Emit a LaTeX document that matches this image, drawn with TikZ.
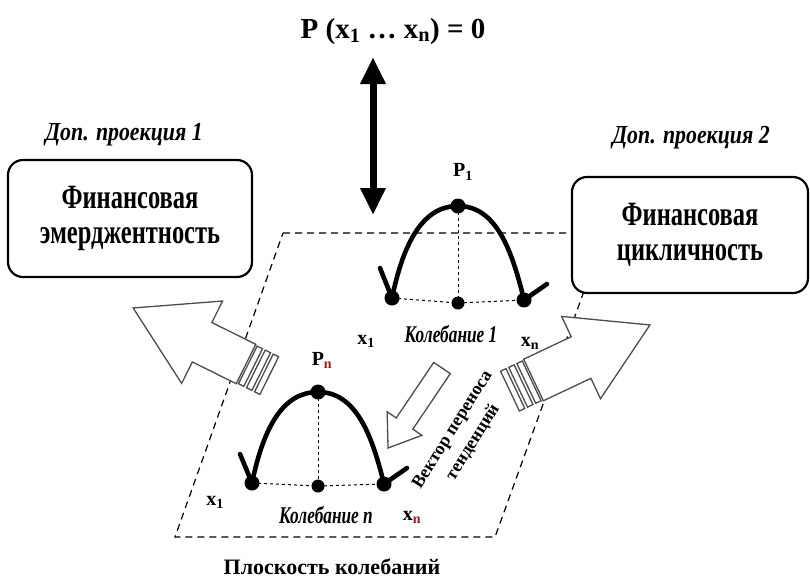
\documentclass[tikz,border=0pt]{standalone}
\usepackage{fontspec}
\setmainfont{Liberation Serif}
\newfontfamily\narrowA[FakeStretch=0.72]{Liberation Serif}
\newfontfamily\narrowB[FakeStretch=0.84]{Liberation Serif}
\usetikzlibrary{arrows.meta}
\definecolor{subred}{RGB}{150,30,30}
\tikzset{
  plane/.style={draw=black, line width=1.2pt, dash pattern=on 7pt off 5pt},
  guide/.style={line width=1pt, dash pattern=on 3pt off 3pt},
  wave/.style={line width=4.6pt, line cap=round, line join=round},
  bigdot/.style={circle, fill=black, inner sep=0pt, minimum size=15pt},
  smalldot/.style={circle, fill=black, inner sep=0pt, minimum size=13pt},
  card/.style={draw, line width=2.2pt, rounded corners=15pt, fill=white, align=center,
    font=\narrowA\bfseries\fontsize{34}{35}\selectfont},
  hollow/.style={draw=black!70, line width=1.3pt, fill=white, line join=miter},
  projlabel/.style={font=\narrowB\bfseries\itshape\fontsize{26}{30}\selectfont, anchor=base},
  osclabel/.style={font=\narrowA\bfseries\itshape\fontsize{24}{28}\selectfont, anchor=base},
  varlabel/.style={font=\bfseries\fontsize{20}{22}\selectfont},
  titlelabel/.style={font=\bfseries\fontsize{29}{32}\selectfont, anchor=base},
  planelabel/.style={font=\bfseries\fontsize{22}{26}\selectfont, anchor=base},
  veclabel/.style={font=\bfseries\fontsize{18}{24}\selectfont, align=center, rotate=58},
  dbl/.style={line width=7pt, {Triangle[width=24pt,length=27pt]}-{Triangle[width=24pt,length=27pt]}}
}
\begin{document}
\begin{tikzpicture}[x=1pt,y=-1pt]
\useasboundingbox (0,0) rectangle (810,579);

% plane
\coordinate (pa) at (283,233);
\coordinate (pb) at (605,233);
\coordinate (pc) at (495,537);
\coordinate (pd) at (175,537);
\draw[plane] (pa) -- (pb) -- (pc) -- (pd) -- cycle;

% title and double arrow
\node[titlelabel] (title) at (393,38) {P (x\textsubscript{1} … x\textsubscript{n}) = 0};
\coordinate (dt) at (373,57);
\coordinate (db) at (373,215);
\draw[dbl] (dt) -- (db);

% boxes
\node[card, minimum width=244pt, minimum height=117pt] (emerg) at (130,218.5) {Финансовая\\эмерджентность};
\node[card, minimum width=236pt, minimum height=116pt] (cycl) at (690,235) {Финансовая\\цикличность};
\node[projlabel] (pr1) at (124,140) {Доп. проекция 1};
\node[projlabel] (pr2) at (691,143) {Доп. проекция 2};

% upper oscillation
\coordinate (uL) at (392,298);
\coordinate (uM) at (458,303);
\coordinate (uR) at (524,300);
\coordinate (uP) at (458,206);
\coordinate (uTa) at (380,268);
\coordinate (uTb) at (547,284);
\draw[guide] (uL) -- (uM) -- (uR);
\draw[guide] (uP) -- (uM);
\draw[wave] (uTa) -- (uL) .. controls (404,240) and (424,206) .. (uP)
  .. controls (496,206) and (512,250) .. (uR) -- (uTb);
\node[bigdot] (u1) at (uL) {};
\node[smalldot] (u2) at (uM) {};
\node[bigdot] (u3) at (uR) {};
\node[bigdot] (u4) at (uP) {};

% lower oscillation
\begin{scope}[shift={(-140,185)}]
\coordinate (lL) at (392,298);
\coordinate (lM) at (458,301);
\coordinate (lR) at (524,299);
\coordinate (lP) at (458,207);
\coordinate (lTa) at (380,269);
\coordinate (lTb) at (547,283);
\draw[guide] (lL) -- (lM) -- (lR);
\draw[guide] (lP) -- (lM);
\draw[wave] (lTa) -- (lL) .. controls (404,240) and (424,207) .. (lP)
  .. controls (496,207) and (512,250) .. (lR) -- (lTb);
\node[bigdot] (l1) at (lL) {};
\node[smalldot] (l2) at (lM) {};
\node[bigdot] (l3) at (lR) {};
\node[bigdot] (l4) at (lP) {};
\end{scope}

% labels near oscillations
\node[varlabel] (p1) at (463,172) {P\textsubscript{1}};
\node[varlabel] (pn) at (322,360) {P\textsubscript{\color{subred}n}};
\node[varlabel] (ux1) at (366,341) {x\textsubscript{1}};
\node[varlabel] (uxn) at (530,343) {x\textsubscript{n}};
\node[varlabel] (lx1) at (215,502) {x\textsubscript{1}};
\node[varlabel] (lxn) at (412,517) {x\textsubscript{\color{subred}n}};
\node[osclabel] (o1) at (451,342) {Колебание 1};
\node[osclabel] (on) at (326,523) {Колебание n};
\node[planelabel] (pl) at (332,574) {Плоскость колебаний};

% left big hollow arrow
\begin{scope}[shift={(246,364)}, rotate=153.6]
  \draw[hollow] (0,-22) -- (49,-22) -- (49,-46) -- (126,0) -- (49,46) -- (49,22) -- (0,22) -- cycle;
  \foreach \a/\b in {-2/-8, -11/-17, -20/-26} \draw[hollow] (\a,-21) rectangle (\b,21);
\end{scope}

% right big hollow arrow
\begin{scope}[shift={(533.5,380)}, rotate=25.3]
  \draw[hollow] (0,-23) -- (52.6,-23) -- (52.6,-45.5) -- (128.8,0) -- (52.6,45.5) -- (52.6,23) -- (0,23) -- cycle;
  \foreach \a/\b in {-2/-8, -11/-17, -20/-26} \draw[hollow] (\a,-22) rectangle (\b,22);
\end{scope}

% transfer vector arrow
\begin{scope}[shift={(442,368)}, rotate=236]
  \draw[hollow] (0,-10) -- (67,-10) -- (67,-21) -- (96.5,0) -- (67,21) -- (67,10) -- (0,10) -- cycle;
\end{scope}
\node[veclabel] (vec) at (463,436) {Вектор переноса\\тенденций};

\end{tikzpicture}
\end{document}
